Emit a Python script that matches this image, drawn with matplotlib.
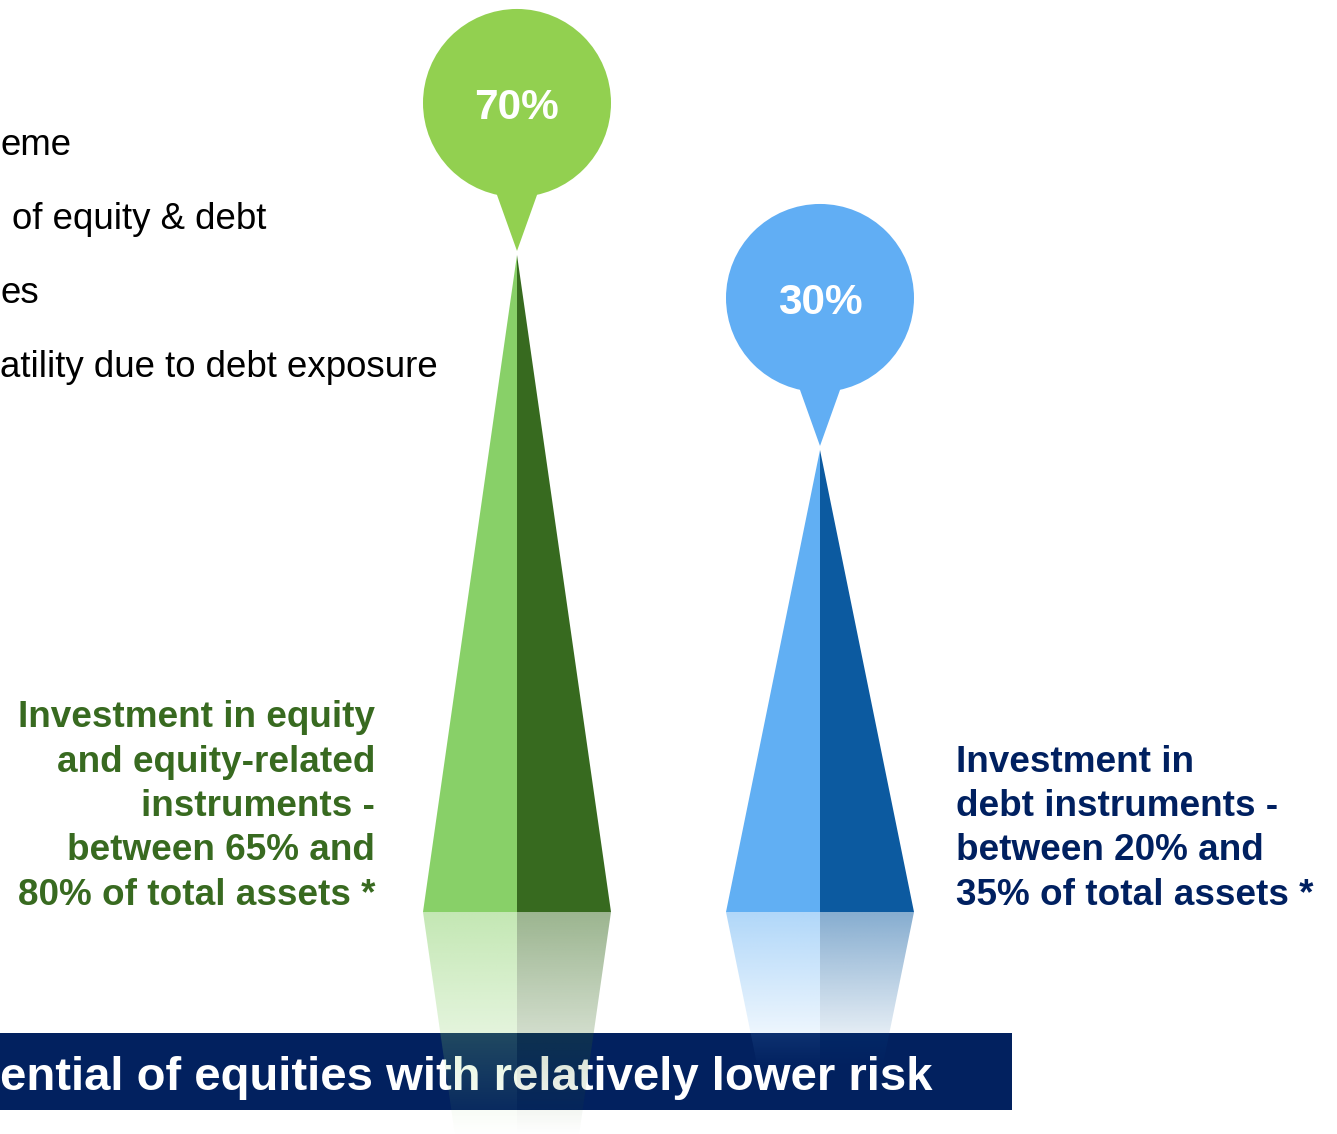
import matplotlib.pyplot as plt
import numpy as np
from matplotlib.patches import Polygon, Ellipse, Rectangle
from matplotlib.colors import to_rgb

# Data
shares = [70, 30]
share_labels = ["70%", "30%"]
descriptions = [
    ["Investment in equity", "and equity-related", "instruments -",
     "between 65% and", "80% of total assets *"],
    ["Investment in", "debt instruments -", "between 20% and",
     "35% of total assets *"],
]
light_colors = ["#88D068", "#61AFF3"]
dark_colors = ["#376A1F", "#0C5AA0"]
bubble_colors = ["#92D050", "#61AEF4"]
text_colors = ["#386A20", "#002060"]
bullets = ["eme", "of equity & debt", "es", "atility due to debt exposure"]
banner_text = "ential of equities with relatively lower risk"

# Layout (pixels of a 1337x1134 canvas)
W, H = 1337, 1134
PX_PER_PCT = 4.875          # vertical pixels per percentage point
TOP_PCT = 122.3             # value sitting at the top edge
spike_x = [517, 820]
half_w = 94
base_py = 912


def px(n):
    return n / PX_PER_PCT


def vy(py):
    return TOP_PCT - py / PX_PER_PCT


plt.rcParams['font.family'] = ['Liberation Sans', 'DejaVu Sans']
fig = plt.figure(figsize=(W / 100, H / 100), dpi=100)
ax = fig.add_axes([0, 0, 1, 1])
ax.axis('off')
base = vy(base_py)

# spikes, bubbles, reflections
for i, v in enumerate(shares):
    cx = spike_x[i]
    ax.add_patch(Polygon([(cx - half_w, base), (cx, v), (cx, base)],
                         closed=True, facecolor=light_colors[i], edgecolor='none', zorder=2))
    ax.add_patch(Polygon([(cx, base), (cx, v), (cx + half_w, base)],
                         closed=True, facecolor=dark_colors[i], edgecolor='none', zorder=2))

    cy = v + px(152)
    ax.add_patch(Ellipse((cx, cy), 2 * half_w, 2 * px(half_w),
                         facecolor=bubble_colors[i], edgecolor='none', zorder=2))
    ax.add_patch(Polygon([(cx - 25, cy - px(78)), (cx + 25, cy - px(78)), (cx, v + px(4))],
                         closed=True, facecolor=bubble_colors[i], edgecolor='none', zorder=2))
    ax.text(cx, cy - px(16), share_labels[i], color='white', fontsize=30.5,
            fontweight='bold', ha='center', va='baseline', zorder=3)

    # mirrored, fading reflection below the base
    hs = v - base
    fade = 0.34 * hs
    ys = np.linspace(base - hs, base, 400)
    alpha = 0.5 * np.clip(1 - (base - ys) / fade, 0, 1)
    for side, col in ((-1, light_colors[i]), (1, dark_colors[i])):
        img = np.zeros((len(ys), 2, 4))
        img[:, :, :3] = to_rgb(col)
        img[:, :, 3] = alpha[:, None]
        x0, x1 = sorted([cx, cx + side * half_w])
        clip = Polygon([(cx + side * half_w, base), (cx, base), (cx, base - hs)],
                       closed=True, facecolor='none', edgecolor='none')
        ax.add_patch(clip)
        im = ax.imshow(img, extent=(x0, x1, base - hs, base), origin='lower',
                       aspect='auto', interpolation='bilinear', zorder=6)
        im.set_clip_path(clip)

# bullet text on the left (cropped in the source)
bullet_x = [0, 12, 0, 0]
for k, t in enumerate(bullets):
    ax.text(bullet_x[k], vy(155 + 74 * k), t, fontsize=26.4, color='black',
            ha='left', va='baseline', zorder=3)

# descriptions
line_gap = 44.5
for k, t in enumerate(descriptions[0]):
    ax.text(375, vy(905 - line_gap * (len(descriptions[0]) - 1 - k)), t,
            fontsize=26.6, fontweight='bold', color=text_colors[0],
            ha='right', va='baseline', zorder=3)
for k, t in enumerate(descriptions[1]):
    ax.text(956, vy(905 - line_gap * (len(descriptions[1]) - 1 - k)), t,
            fontsize=26.6, fontweight='bold', color=text_colors[1],
            ha='left', va='baseline', zorder=3)

# banner
ax.add_patch(Rectangle((0, vy(1110)), 1012, px(77), facecolor='#02215F',
                       edgecolor='none', zorder=4))
ax.text(0, vy(1090), banner_text, fontsize=34.0, fontweight='bold',
        color='white', ha='left', va='baseline', zorder=5)

ax.set_xlim(0, W)
ax.set_ylim(vy(H), TOP_PCT)
fig.savefig('out.png', dpi=100, facecolor='white')
